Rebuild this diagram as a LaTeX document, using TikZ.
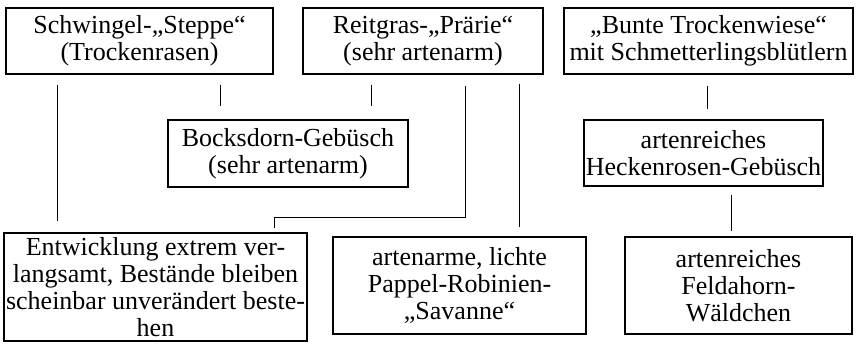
\documentclass[tikz,border=0pt]{standalone}
\usepackage{fontspec}
\setmainfont{Liberation Serif}
\usetikzlibrary{calc}
\begin{document}
\begin{tikzpicture}[x=1pt,y=-1pt,
  box/.style={draw, line width=1.4pt, inner sep=0pt, align=center,
    font=\fontsize{26}{26.8}\selectfont},
  link/.style={draw, line width=1.4pt}]
\useasboundingbox (0,0) rectangle (856,343);

% top row
\node[box, minimum width=267pt, minimum height=66pt] (schw) at (139.5,41)
  {Schwingel-„Steppe“\\(Trockenrasen)};
\node[box, minimum width=240pt, minimum height=66pt] (reit) at (423,41)
  {Reitgras-„Prärie“\\(sehr artenarm)};
\node[box, minimum width=289pt, minimum height=66pt] (bunte) at (708.5,41)
  {„Bunte Trockenwiese“\\mit Schmetterlingsblütlern};

% middle row
\node[box, minimum width=240pt, minimum height=67pt] (bock) at (288,153.5)
  {Bocksdorn-Gebüsch\\(sehr artenarm)};
\node[box, minimum width=239pt, minimum height=66pt] (heck) at (703.5,153)
  {artenreiches\\Heckenrosen-Gebüsch};

% bottom row
\node[box, minimum width=303pt, minimum height=108pt] (entw) at (155.5,287)
  {Entwicklung extrem ver-\\langsamt, Bestände bleiben\\scheinbar unverändert beste-\\hen};
\node[box, minimum width=253pt, minimum height=97pt] (sav) at (459.5,285.5)
  {artenarme, lichte\\Pappel-Robinien-\\„Savanne“};
\node[box, minimum width=227pt, minimum height=97pt] (feld) at (738.5,285.5)
  {artenreiches\\Feldahorn-\\Wäldchen};

% connectors
\draw[link, shorten <=10pt, shorten >=11pt]
  ($(schw.south west)+(52,0)$) -- ($(entw.north west)+(54,0)$);
\draw[link, shorten <=10pt, shorten >=13pt]
  ($(schw.south west)+(215,0)$) -- ($(bock.north west)+(53,0)$);
\draw[link, shorten <=10pt, shorten >=13pt]
  ($(reit.south west)+(69,0)$) -- ($(bock.north west)+(204,0)$);
\draw[link, shorten <=11pt, shorten >=4pt]
  ($(reit.south west)+(163,0)$) -- ++(0,143) -| ($(entw.north west)+(271,0)$);
\draw[link, shorten <=9pt, shorten >=9pt]
  ($(reit.south west)+(217,0)$) -- ($(sav.north west)+(187,0)$);
\draw[link, shorten <=11pt, shorten >=10pt]
  ($(bunte.south west)+(144,0)$) -- ($(heck.north west)+(124,0)$);
\draw[link, shorten <=8pt, shorten >=5pt]
  ($(heck.south west)+(148,0)$) -- ($(feld.north west)+(107,0)$);
\end{tikzpicture}
\end{document}
